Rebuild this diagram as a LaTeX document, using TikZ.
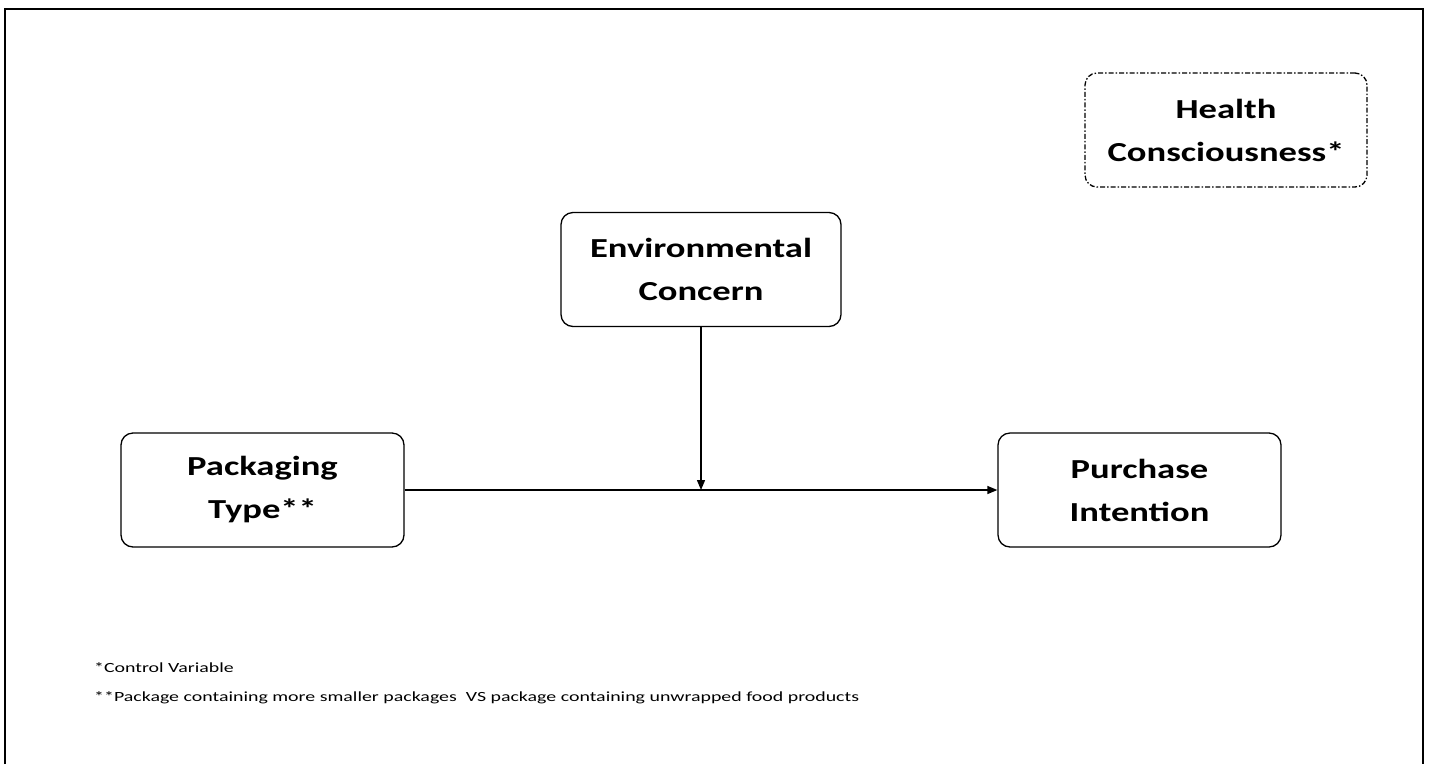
\documentclass[tikz,border=0pt]{standalone}
\usepackage{fontspec}
\setmainfont{Carlito}
\newfontfamily\boxfont[FakeStretch=1.33]{Carlito}
\newfontfamily\notefont[FakeStretch=1.42]{Carlito}
\usetikzlibrary{arrows.meta}
\begin{document}
\begin{tikzpicture}[x=1pt,y=-1pt,
  box/.style={draw, line width=1.3pt, rounded corners=12pt, minimum width=282pt, minimum height=114pt, align=center, font=\boxfont\fontsize{27.5}{43}\selectfont\bfseries, inner sep=0pt},
  ctrl/.style={box, dash pattern=on 5pt off 2pt on 1.5pt off 2pt},
  conn/.style={line width=1.3pt, -{Triangle[length=10pt,width=8pt]}},
  note/.style={anchor=west, font=\notefont\fontsize{14}{16}\selectfont, inner sep=0pt}]
\useasboundingbox (0,0) rectangle (1431,764);
\fill[white] (0,0) rectangle (1431,764);
\draw[line width=2pt] (5,764) -- (5,9) -- (1423,9) -- (1423,764);
\node[ctrl] (hc) at (1226,130) {Health\\Consciousness*};
\node[box, minimum width=280pt] (ec) at (701,269.5) {Environmental\\Concern};
\node[box, minimum width=283pt] (pt) at (262.5,490) {Packaging\\Type**};
\node[box, minimum width=283pt] (pi) at (1139.5,490) {Purchase\\Intention};
\draw[conn] (pt.east) -- (pi.west);
\coordinate (m) at (ec.south |- pt.east);
\draw[conn] (ec.south) -- (m);
\node[note] (n1) at (94,668) {*Control Variable};
\node[note] (n2) at (94,698) {**Package containing more smaller packages\ \ VS package containing unwrapped food products};
\end{tikzpicture}
\end{document}
